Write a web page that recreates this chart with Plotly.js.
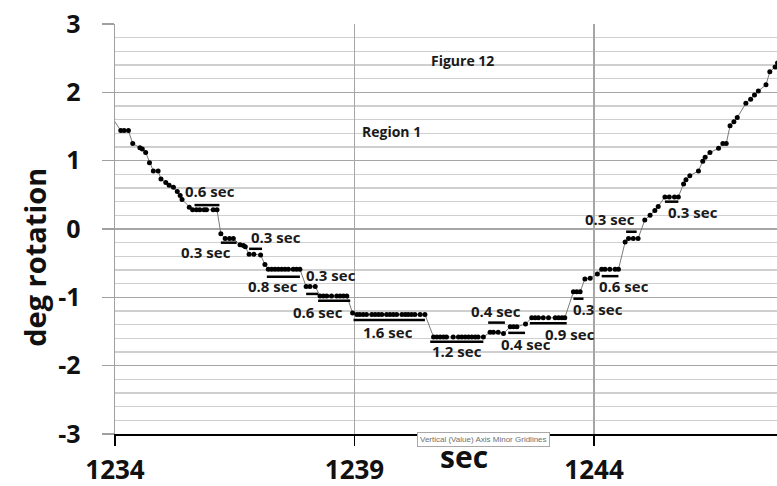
<!DOCTYPE html>
<html>
<head>
<meta charset="utf-8">
<script src="https://cdn.plot.ly/plotly-3.0.1.min.js"></script>
<style>html,body{margin:0;padding:0;background:#fff;}#chart{width:777px;height:486px;}</style>
</head>
<body>
<div id="chart"></div>
<script>
// measured series: time (sec) and rotation (deg)
const timeSec = [1233.95,1234.12,1234.19,1234.28,1234.37,1234.52,1234.57,1234.64,1234.72,1234.80,1234.90,1234.96,1235.06,1235.13,1235.22,1235.30,1235.36,1235.40,1235.55,
1235.62,1235.70,1235.77,1235.86,1235.91,1236.05,1236.13,1236.21,1236.30,1236.39,1236.47,1236.61,1236.68,1236.72,1236.80,1236.90,1237.04,1237.13,
1237.20,1237.27,1237.34,1237.41,1237.48,1237.55,1237.62,1237.72,1237.79,1237.86,1237.99,1238.07,1238.18,
1238.28,1238.35,1238.42,1238.52,1238.63,1238.70,1238.77,1238.84,1238.96,
1239.05,1239.11,1239.18,1239.25,1239.36,1239.43,1239.50,1239.57,1239.67,1239.74,1239.81,1239.88,1239.99,1240.06,1240.12,1240.19,1240.26,1240.37,1240.47,
1240.65,1240.72,1240.79,1240.86,1240.92,1241.06,1241.17,1241.24,1241.31,1241.38,1241.45,1241.52,1241.58,1241.69,
1241.83,1241.90,1242.00,1242.11,1242.25,1242.32,1242.39,1242.57,
1242.70,1242.77,1242.84,1242.94,1243.05,1243.19,1243.26,1243.33,1243.39,
1243.57,1243.64,1243.71,1243.81,1243.92,1244.07,1244.16,1244.23,1244.33,1244.44,1244.51,
1244.65,1244.72,1244.82,1244.92,1245.06,1245.17,1245.27,1245.34,1245.48,1245.57,1245.68,1245.76,
1245.87,1245.92,1246.00,1246.18,1246.27,1246.32,1246.42,1246.60,1246.69,1246.76,1246.84,1246.92,1246.99,
1247.17,1247.27,1247.35,1247.43,1247.59,1247.67,1247.78,1247.83];
const rotationDeg = [1.62,1.44,1.44,1.44,1.25,1.19,1.17,1.12,0.97,0.85,0.85,0.73,0.68,0.64,0.61,0.55,0.49,0.43,0.32,
0.28,0.28,0.28,0.28,0.28,0.28,0.28,-0.07,-0.14,-0.14,-0.14,-0.23,-0.24,-0.26,-0.37,-0.37,-0.38,-0.52,
-0.59,-0.59,-0.59,-0.59,-0.59,-0.59,-0.59,-0.59,-0.59,-0.59,-0.84,-0.84,-0.84,
-0.98,-0.98,-0.98,-0.98,-0.98,-0.98,-0.98,-0.98,-1.23,
-1.25,-1.25,-1.25,-1.25,-1.25,-1.25,-1.25,-1.25,-1.25,-1.25,-1.25,-1.25,-1.25,-1.25,-1.25,-1.25,-1.25,-1.25,-1.25,
-1.58,-1.58,-1.58,-1.58,-1.58,-1.58,-1.58,-1.58,-1.58,-1.58,-1.58,-1.58,-1.58,-1.58,
-1.51,-1.51,-1.51,-1.53,-1.43,-1.43,-1.43,-1.39,
-1.30,-1.30,-1.30,-1.30,-1.30,-1.30,-1.30,-1.30,-1.30,
-0.92,-0.92,-0.92,-0.73,-0.72,-0.66,-0.59,-0.59,-0.59,-0.59,-0.59,
-0.19,-0.14,-0.14,-0.14,0.13,0.20,0.27,0.33,0.47,0.47,0.47,0.47,
0.66,0.72,0.78,0.85,0.99,1.05,1.12,1.18,1.25,1.25,1.51,1.57,1.63,
1.84,1.90,1.96,2.02,2.11,2.30,2.37,2.43];

// dwell-time bars: start, end, level
const barStart = [1235.66,1236.21,1236.80,1237.17,1237.99,1238.24,1238.98,1240.58,1241.79,1242.21,1242.66,1243.57,1244.16,1244.67,1245.48];
const barEnd   = [1236.18,1236.54,1237.07,1237.86,1238.24,1238.91,1240.47,1241.69,1242.14,1242.56,1243.43,1243.78,1244.51,1244.89,1245.76];
const barLevel = [0.35,-0.20,-0.29,-0.70,-0.95,-1.05,-1.33,-1.65,-1.37,-1.52,-1.38,-1.02,-0.69,-0.04,0.40];

// dwell labels
const labelText = ["0.6 sec","0.3 sec","0.3 sec","0.8 sec","0.3 sec","0.6 sec","1.6 sec","1.2 sec","0.4 sec","0.4 sec","0.9 sec","0.3 sec","0.6 sec","0.3 sec","0.3 sec"];
const labelX = [1235.99,1235.91,1237.36,1237.30,1238.51,1238.24,1239.69,1241.14,1241.95,1242.57,1243.50,1244.08,1244.62,1244.33,1246.06];
const labelY = [0.55,-0.34,-0.12,-0.83,-0.67,-1.21,-1.51,-1.79,-1.20,-1.68,-1.54,-1.17,-0.84,0.15,0.25];

const xTicks = [1234,1239,1244];
const yTicks = [-3,-2,-1,0,1,2,3];

const FONT = "Open Sans, Liberation Sans, sans-serif";

const bx = [], by = [];
for (let i = 0; i < barStart.length; i++) {
  bx.push(barStart[i], barEnd[i], null);
  by.push(barLevel[i], barLevel[i], null);
}

const traces = [
  {x: timeSec, y: rotationDeg, type: 'scatter', mode: 'lines+markers',
   line: {color: '#7a7a7a', width: 1},
   marker: {color: '#000', size: 5}, hoverinfo: 'skip', showlegend: false},
  {x: bx, y: by, type: 'scatter', mode: 'lines',
   line: {color: '#000', width: 2.5}, hoverinfo: 'skip', showlegend: false, connectgaps: false}
];

const annotations = labelText.map((t, i) => ({
  x: labelX[i], y: labelY[i], xref: 'x', yref: 'y', text: t, showarrow: false,
  xanchor: 'center', yanchor: 'middle',
  font: {family: FONT, size: 15, weight: 'bold', color: '#1a1a1a'}
}));
annotations.push(
  {x: 1241.25, y: 2.47, xref: 'x', yref: 'y', text: 'Figure 12', showarrow: false,
   xanchor: 'center', yanchor: 'middle',
   font: {family: FONT, size: 14, weight: 'bold', color: '#1a1a1a'}},
  {x: 1239.77, y: 1.43, xref: 'x', yref: 'y', text: 'Region 1', showarrow: false,
   xanchor: 'center', yanchor: 'middle',
   font: {family: FONT, size: 14, weight: 'bold', color: '#1a1a1a'}},
  {x: 1241.29, y: -0.055, xref: 'x', yref: 'paper', text: 'sec', showarrow: false,
   xanchor: 'center', yanchor: 'middle', font: {family: FONT, size: 30, weight: 'bold', color: '#111'}},
  {x: -0.121, y: 0.432, xref: 'paper', yref: 'paper', text: 'deg rotation', showarrow: false,
   xanchor: 'center', yanchor: 'middle',
   textangle: -90, font: {family: FONT, size: 29, weight: 'bold', color: '#111'}},
  {x: 1241.70, y: -0.0146, xref: 'x', yref: 'paper', text: 'Vertical (Value) Axis Minor Gridlines',
   xanchor: 'center', yanchor: 'middle',
   showarrow: false, bgcolor: '#ffffff', bordercolor: '#a8a8a8', borderwidth: 1, borderpad: 2,
   font: {family: 'Liberation Sans, sans-serif', size: 8, color: '#707070'}}
);

const layout = {
  width: 777, height: 486,
  margin: {l: 115, r: 0, t: 24, b: 52},
  paper_bgcolor: '#fff', plot_bgcolor: '#fff',
  showlegend: false,
  xaxis: {
    range: [1234, 1247.82], tickmode: 'array', tickvals: xTicks, ticktext: xTicks.map(String),
    showgrid: true, gridcolor: '#a6a6a6', gridwidth: 1.5, zeroline: false,
    showline: true, linecolor: '#000', linewidth: 1.5, mirror: false,
    ticks: 'outside', ticklen: 10, tickcolor: '#000', tickwidth: 1.5,
    ticklabelstandoff: 2,
    tickfont: {family: FONT, size: 26, weight: 'bold', color: '#111'}
  },
  yaxis: {
    range: [-3, 3], tickmode: 'array', tickvals: yTicks, ticktext: yTicks.map(String),
    showgrid: true, gridcolor: '#a6a6a6', gridwidth: 1.5, zeroline: false,
    minor: {dtick: 0.2, tick0: 0, showgrid: true, gridcolor: '#cfcfcf', gridwidth: 1.5, ticks: ''},
    showline: true, linecolor: '#a0a0a0', linewidth: 1.5,
    ticks: 'outside', ticklen: 12, tickcolor: '#a0a0a0', tickwidth: 1.5,
    ticklabelstandoff: 16,
    tickfont: {family: FONT, size: 25, weight: 'bold', color: '#111'}
  },
  annotations: annotations
};

Plotly.newPlot('chart', traces, layout, {staticPlot: true, displayModeBar: false});
</script>
</body>
</html>
